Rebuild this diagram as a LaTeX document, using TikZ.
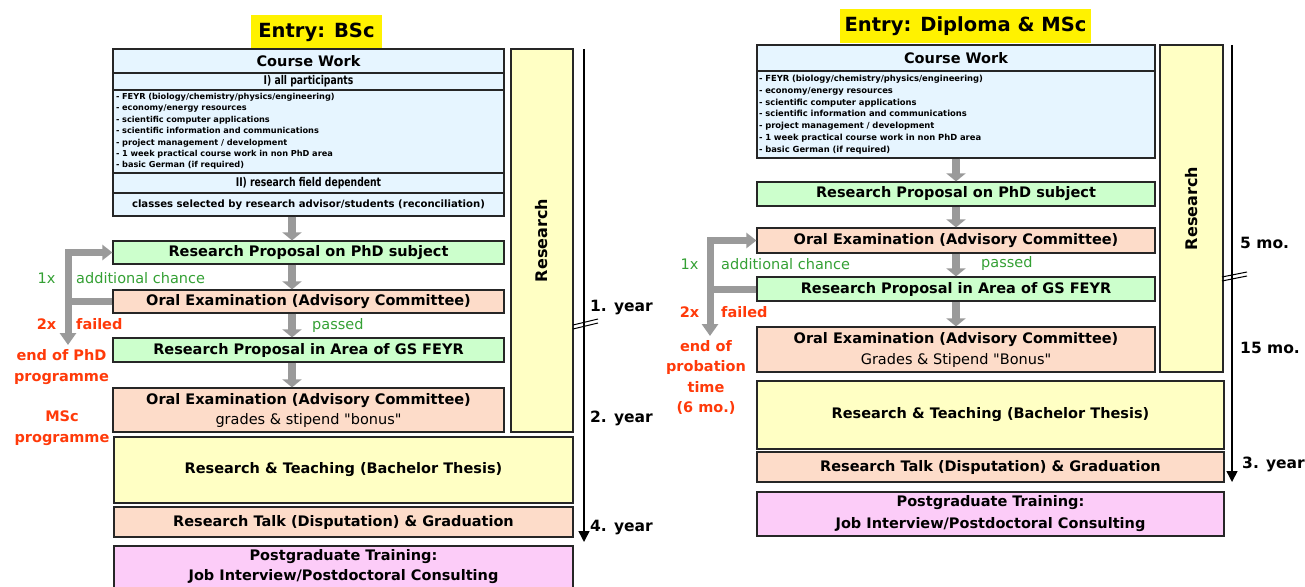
\documentclass[tikz,border=0pt]{standalone}
\usepackage{fontspec}
\setmainfont{DejaVu Sans}
\newfontfamily\narrowfont[FakeStretch=0.77]{DejaVu Sans}
\usepackage{xcolor}
\usetikzlibrary{arrows.meta}

\definecolor{cwblue}{HTML}{E6F5FF}
\definecolor{propgreen}{HTML}{CCFFCC}
\definecolor{exampeach}{HTML}{FDDCC9}
\definecolor{resyellow}{HTML}{FFFFC4}
\definecolor{pgpink}{HTML}{FCCCF8}
\definecolor{chancegreen}{HTML}{34A034}
\definecolor{failred}{HTML}{FF3A0A}
\definecolor{arrowgray}{HTML}{9A9A9A}

\tikzset{
  box/.style={draw=black!85, line width=1.2pt, inner sep=0pt, align=center,
    font=\bfseries\fontsize{14.5}{20}\selectfont},
  entry/.style={fill=yellow, inner sep=0pt, font=\bfseries\fontsize{19.5}{22}\selectfont},
  cwsub/.style={box, fill=cwblue, font=\narrowfont\bfseries\fontsize{12}{14}\selectfont},
  lst/.style={box, fill=cwblue, align=left, font=\bfseries\fontsize{8.2}{11.4}\selectfont},
  resbar/.style={box, fill=resyellow, rotate=90, font=\bfseries\fontsize{16}{18}\selectfont},
  flow/.style={draw=arrowgray, line width=8pt, -{Triangle[width=19pt,length=8pt]}},
  backloop/.style={draw=arrowgray, line width=7pt, line join=miter},
  tline/.style={draw=black, line width=1.5pt, -{Triangle[width=11pt,length=11pt]}},
  brk/.style={draw=black, line width=1pt},
  green/.style={text=chancegreen, font=\fontsize{14.5}{20}\selectfont, inner sep=0pt},
  red/.style={text=failred, font=\bfseries\fontsize{14.5}{20.5}\selectfont, inner sep=0pt, align=center},
  yr/.style={anchor=west, inner sep=0pt, font=\bfseries\fontsize{15.5}{18}\selectfont}
}

\begin{document}
\begin{tikzpicture}[x=1pt, y=-1pt]
\useasboundingbox (0,0) rectangle (1305,586);

%% Entry: BSc
\node[entry, minimum width=131pt, minimum height=34pt] (entryL) at (316.5,32) {Entry: BSc};
% course work
\node[box, fill=cwblue, minimum width=391pt, minimum height=24pt] (cwL) at (308.5,61) {Course Work};
\node[cwsub, minimum width=391pt, minimum height=17pt] (allL) at (308.5,81.5) {I) all participants};
\node[lst, text width=385pt, inner xsep=3pt, minimum height=83pt] (listL) at (308.5,131.5)
  {- FEYR (biology/chemistry/physics/engineering)\\
   - economy/energy resources\\
   - scientific computer applications\\
   - scientific information and communications\\
   - project management / development\\
   - 1 week practical course work in non PhD area\\
   - basic German (if required)};
\node[cwsub, minimum width=391pt, minimum height=20pt] (fieldL) at (308.5,183) {II) research field dependent};
\node[box, fill=cwblue, minimum width=391pt, minimum height=23pt, font=\bfseries\fontsize{10.1}{12}\selectfont] (classL) at (308.5,204.5)
  {classes selected by research advisor/students (reconciliation)};
% proposal and exams
\node[box, fill=propgreen, minimum width=391pt, minimum height=23pt] (rp1) at (308.5,252.5) {Research Proposal on PhD subject};
\node[box, fill=exampeach, minimum width=391pt, minimum height=23pt] (oe1) at (308.5,301.5) {Oral Examination (Advisory Committee)};
\node[box, fill=propgreen, minimum width=391pt, minimum height=24pt] (ra1) at (308.5,350) {Research Proposal in Area of GS FEYR};
\node[box, fill=exampeach, minimum width=391pt, minimum height=44pt] (oe2) at (308.5,410)
  {Oral Examination (Advisory Committee)\\ \mdseries grades \& stipend \textquotedbl bonus\textquotedbl};
\node[box, fill=resyellow, minimum width=459pt, minimum height=66pt] (rt1) at (343.5,470) {Research \& Teaching (Bachelor Thesis)};
\node[box, fill=exampeach, minimum width=459pt, minimum height=30pt] (dt1) at (343.5,522) {Research Talk (Disputation) \& Graduation};
\node[box, fill=pgpink, minimum width=459pt, minimum height=42pt] (pg1) at (343.5,567)
  {Postgraduate Training:\\ Job Interview/Postdoctoral Consulting};
% research bar
\node[resbar, minimum width=383pt, minimum height=62pt] (resL) at (542,240.5) {Research};

% arrows
\draw[flow] ([xshift=-16.5pt]classL.south) -- ([xshift=-16.5pt]rp1.north);
\draw[flow] ([xshift=-16.5pt]rp1.south) -- ([xshift=-16.5pt]oe1.north);
\draw[flow] ([xshift=-16.5pt]oe1.south) -- ([xshift=-16.5pt]ra1.north);
\draw[flow] ([xshift=-16.5pt]ra1.south) -- ([xshift=-16.5pt]oe2.north);
\node[green, anchor=west] (passL) at (312,325) {passed};

% second chance
\coordinate (barL) at (68,345);
\draw[backloop] (oe1.west) -- (oe1.west -| barL);
\draw[backloop, {Triangle[width=16pt,length=12pt]}-{Triangle[width=15pt,length=10pt]}]
  (barL) -- (barL |- rp1.west) -- (rp1.west);
\node[green] (oneL) at (46.5,278) {1x};
\node[green, anchor=west] (chanceL) at (76,278) {additional chance};
\node[red] (twoL) at (46.5,324) {2x};
\node[red, anchor=west] (failL) at (76,324) {failed};
\node[red] (endL) at (61.5,367) {end of PhD\\programme};
\node[red, font=\bfseries\fontsize{14.5}{21}\selectfont] (mscL) at (62,428.5) {MSc\\programme};

% time line
\coordinate (tL0) at (584,49);
\coordinate (tL1) at (584,542);
\draw[tline] (tL0) -- (tL1);
\draw[brk] (573,325) -- (598,319);
\draw[brk] (573,329) -- (598,323);
\node[yr] (y1L) at (590,308) {1. year};
\node[yr] (y2L) at (590,418) {2. year};
\node[yr] (y4L) at (590,528) {4. year};

%% Entry: Diploma & MSc
\node[entry, minimum width=251pt, minimum height=34pt] (entryR) at (965.5,26) {Entry: Diploma \& MSc};
% course work
\node[box, fill=cwblue, minimum width=398pt, minimum height=26pt] (cwR) at (956,58) {Course Work};
\node[lst, text width=394pt, inner xsep=2pt, minimum height=87pt, font=\bfseries\fontsize{8.4}{11.8}\selectfont] (listR) at (956,114.5)
  {- FEYR (biology/chemistry/physics/engineering)\\
   - economy/energy resources\\
   - scientific computer applications\\
   - scientific information and communications\\
   - project management / development\\
   - 1 week practical course work in non PhD area\\
   - basic German (if required)};
% proposal and exams
\node[box, fill=propgreen, minimum width=398pt, minimum height=24pt] (rp2) at (956,194) {Research Proposal on PhD subject};
\node[box, fill=exampeach, minimum width=398pt, minimum height=25pt] (oe3) at (956,240.5) {Oral Examination (Advisory Committee)};
\node[box, fill=propgreen, minimum width=398pt, minimum height=24pt] (ra2) at (956,289) {Research Proposal in Area of GS FEYR};
\node[box, fill=exampeach, minimum width=398pt, minimum height=45pt, font=\bfseries\fontsize{14.5}{21}\selectfont] (oe4) at (956,349.5)
  {Oral Examination (Advisory Committee)\\ \mdseries Grades \& Stipend \textquotedbl Bonus\textquotedbl};
\node[box, fill=resyellow, minimum width=467pt, minimum height=68pt] (rt2) at (990.5,415) {Research \& Teaching (Bachelor Thesis)};
\node[box, fill=exampeach, minimum width=467pt, minimum height=30pt] (dt2) at (990.5,467) {Research Talk (Disputation) \& Graduation};
\node[box, fill=pgpink, minimum width=467pt, minimum height=44pt, font=\bfseries\fontsize{14.5}{22}\selectfont] (pg2) at (990.5,514)
  {Postgraduate Training:\\ Job Interview/Postdoctoral Consulting};
% research bar
\node[resbar, minimum width=327pt, minimum height=63pt] (resR) at (1191.5,208.5) {Research};

% arrows
\draw[flow] (listR.south) -- (rp2.north);
\draw[flow] (rp2.south) -- (oe3.north);
\draw[flow] (oe3.south) -- (ra2.north);
\draw[flow] (ra2.south) -- (oe4.north);
\node[green, anchor=west] (passR) at (981,263) {passed};

% second chance
\coordinate (barR) at (710,336);
\draw[backloop] (ra2.west) -- (ra2.west -| barR);
\draw[backloop, {Triangle[width=16pt,length=12pt]}-{Triangle[width=15pt,length=10pt]}]
  (barR) -- (barR |- oe3.west) -- (oe3.west);
\node[green] (oneR) at (689.5,264) {1x};
\node[green, anchor=west] (chanceR) at (721,264) {additional chance};
\node[red] (twoR) at (689.5,312) {2x};
\node[red, anchor=west] (failR) at (721,312) {failed};
\node[red] (endR) at (706,377.5) {end of\\probation\\time\\(6 mo.)};

% time line
\coordinate (tR0) at (1232,45);
\coordinate (tR1) at (1232,482);
\draw[tline] (tR0) -- (tR1);
\draw[brk] (1222,277) -- (1247,272);
\draw[brk] (1222,281) -- (1247,276);
\node[yr] (m5R) at (1240,243) {5 mo.};
\node[yr] (m15R) at (1240,348) {15 mo.};
\node[yr] (y3R) at (1242,464) {3. year};
\end{tikzpicture}
\end{document}
